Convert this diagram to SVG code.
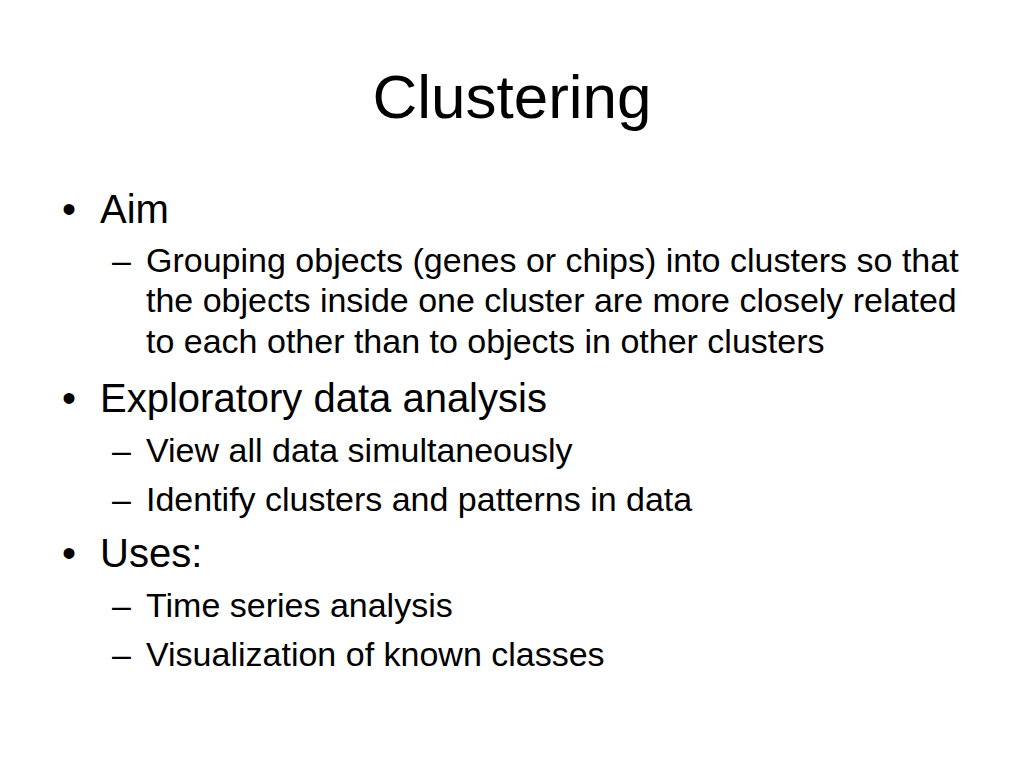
<svg xmlns="http://www.w3.org/2000/svg" width="1024" height="768" viewBox="0 0 1024 768">
<style>
text{font-family:"Liberation Sans",Arial,sans-serif;fill:#000}
.t{font-size:62px}
.l1{font-size:40px}
.l2{font-size:34px}
</style>
<rect width="1024" height="768" fill="#fff"/>
<g id="title"><text class="t" x="512" y="118" text-anchor="middle">Clustering</text></g>
<g id="aim">
<text class="l1" x="62" y="223">•</text>
<text class="l1" x="100" y="223">Aim</text>
<text class="l2" x="112" y="272">–</text>
<text class="l2" x="146" y="272">Grouping objects (genes or chips) into clusters so that</text>
<text class="l2" x="146" y="312">the objects inside one cluster are more closely related</text>
<text class="l2" x="146" y="353">to each other than to objects in other clusters</text>
</g>
<g id="exploratory">
<text class="l1" x="62" y="412">•</text>
<text class="l1" x="100" y="412">Exploratory data analysis</text>
<text class="l2" x="112" y="462">–</text>
<text class="l2" x="146" y="462">View all data simultaneously</text>
<text class="l2" x="112" y="511">–</text>
<text class="l2" x="146" y="511">Identify clusters and patterns in data</text>
</g>
<g id="uses">
<text class="l1" x="62" y="567">•</text>
<text class="l1" x="100" y="567">Uses:</text>
<text class="l2" x="112" y="617">–</text>
<text class="l2" x="146" y="617">Time series analysis</text>
<text class="l2" x="112" y="666">–</text>
<text class="l2" x="146" y="666">Visualization of known classes</text>
</g>
</svg>
